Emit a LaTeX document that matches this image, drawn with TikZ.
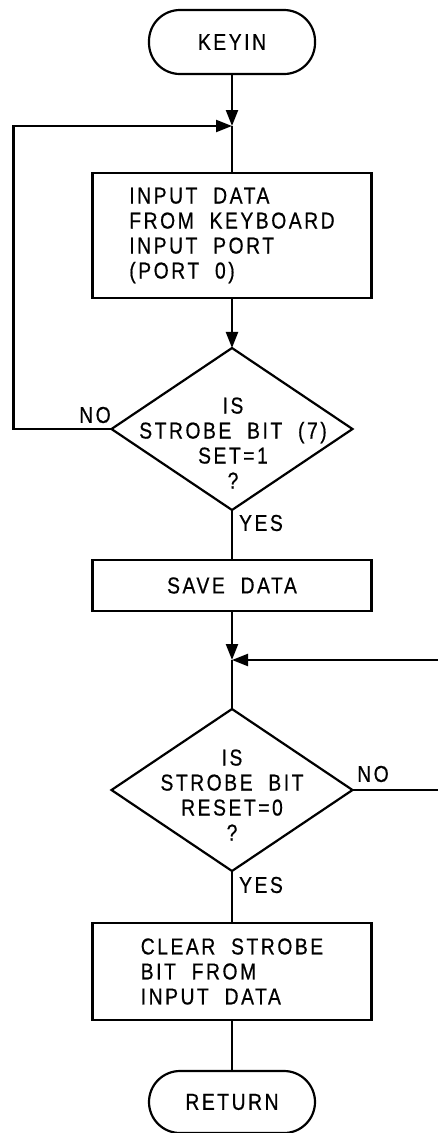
\documentclass[tikz,border=0pt]{standalone}
\usepackage{fontspec}
\setmainfont{Liberation Sans}[LetterSpace=11.0, FakeStretch=0.84, WordSpace=2.0, FakeBold=0.6]
\usetikzlibrary{shapes.geometric,arrows.meta}
\begin{document}
\begin{tikzpicture}[x=1pt,y=-1pt,
  every node/.style={font=\fontsize{23}{25}\selectfont, inner sep=0pt, outer sep=0pt},
  ln/.style={line width=2.2pt},
  arr/.style={line width=2.2pt, -{Triangle[length=16pt,width=12pt]}},
  term/.style={draw, line width=2.2pt, rounded corners=31pt, minimum width=166pt, minimum height=64pt},
  proc/.style={draw, line width=2.2pt, minimum width=279pt, align=left},
  dec/.style={draw, diamond, line width=2.2pt, minimum width=241pt, minimum height=162pt},
  txt/.style={align=center},
]
\useasboundingbox (0,0) rectangle (438,1133);
\clip (0,0) rectangle (438,1133);

\node[term] (k) at (232,42) {KEYIN};
\coordinate (j1) at (232,126);
\node[proc, minimum height=125pt] (b1) at (232,235.5) {INPUT DATA\\FROM KEYBOARD\\INPUT PORT\\(PORT 0)};
\node[dec] (d1) at (232,429) {};
\node[txt] (d1t) at (233,443) {IS\\STROBE BIT (7)\\SET=1\\?};
\node (no1) at (95,415) {NO};
\node (yes1) at (261,523) {YES};
\node[proc, minimum height=51pt] (b2) at (232,585.5) {SAVE DATA};
\coordinate (j2) at (232,660);
\node[dec] (d2) at (232,790) {};
\node[txt] (d2t) at (232,795) {IS\\STROBE BIT\\RESET=0\\?};
\node (no2) at (373,774) {NO};
\node (yes2) at (261,885) {YES};
\node[proc, minimum height=97pt] (b3) at (232,971.5) {CLEAR STROBE\\BIT FROM\\INPUT DATA};
\node[term, minimum height=62pt] (r) at (232,1102) {RETURN};

\draw[arr] (k) -- (j1);
\draw[arr] (d1.west) -- ++(-98,0) |- (j1);
\draw[ln] (j1) -- (b1);
\draw[arr] (b1) -- (d1);
\draw[ln] (d1) -- (b2);
\draw[arr] (b2) -- (j2);
\draw[arr] (d2.east) -- ++(95,0) |- (j2);
\draw[ln] (j2) -- (d2);
\draw[ln] (d2) -- (b3);
\draw[ln] (b3) -- (r);
\end{tikzpicture}
\end{document}
